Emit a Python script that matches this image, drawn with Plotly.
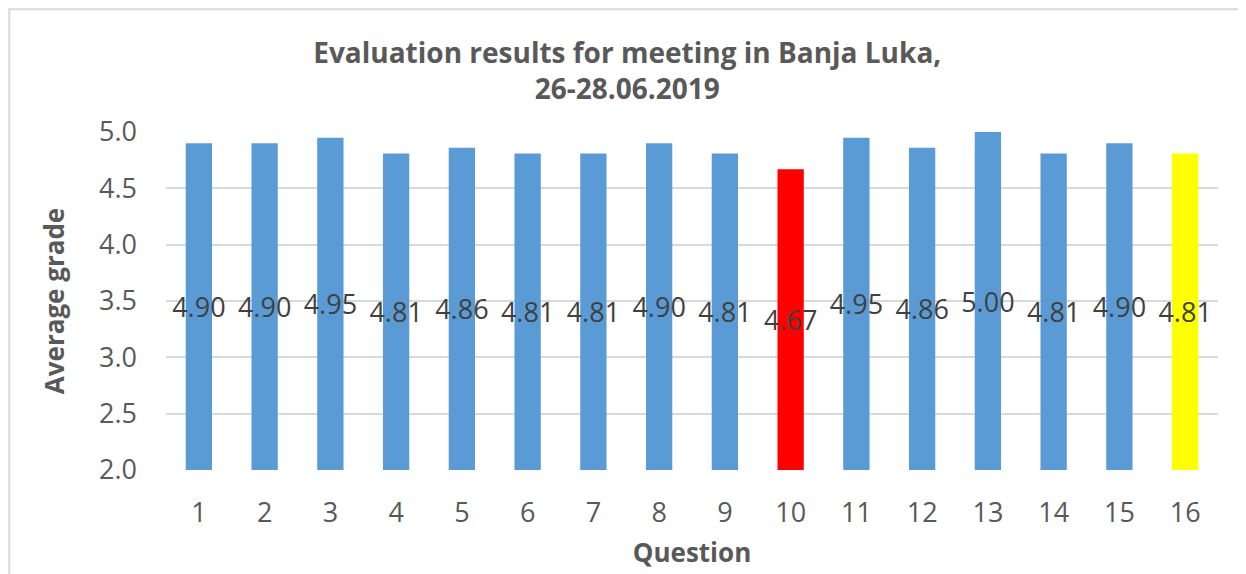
import plotly.graph_objects as go

questions = [str(i) for i in range(1, 17)]
grades = [4.90, 4.90, 4.95, 4.81, 4.86, 4.81, 4.81, 4.90, 4.81, 4.67,
          4.95, 4.86, 5.00, 4.81, 4.90, 4.81]
bar_colors = ["#5B9BD5"] * 9 + ["#FF0000"] + ["#5B9BD5"] * 5 + ["#FFFF00"]
labels = ["%.2f" % g for g in grades]
axis_floor = 2.0  # bars start at the bottom of the axis, like the Excel original

font = "Open Sans, Liberation Sans, sans-serif"

fig = go.Figure(go.Bar(
    x=questions, y=[g - axis_floor for g in grades], base=axis_floor,
    marker=dict(color=bar_colors, line=dict(width=0)),
    text=labels, textposition="inside", insidetextanchor="middle",
    textangle=0,
    insidetextfont=dict(family=font, size=27, color="#404040"),
    hovertemplate="%{x}: %{text}<extra></extra>",
))

fig.update_layout(
    width=1246, height=574,
    margin=dict(l=158, r=36, t=124, b=112),
    paper_bgcolor="white", plot_bgcolor="white",
    bargap=0.6,
    showlegend=False,
    uniformtext=dict(minsize=27, mode="show"),
    title=dict(
        text="Evaluation results for meeting in Banja Luka,<br>26-28.06.2019",
        x=0.497, xanchor="center", y=0.905, yanchor="middle",
        font=dict(family=font, size=28, color="#595959", weight="bold"),
    ),
    font=dict(family=font, color="#595959"),
)

fig.update_xaxes(
    type="category",
    tickfont=dict(size=27, color="#595959"),
    showgrid=False, showline=False, ticks="", ticklabelstandoff=24,
    title=dict(text="Question", font=dict(size=26, color="#595959", weight="bold"), standoff=14),
)
fig.update_yaxes(
    range=[2.0, 5.0], dtick=0.5, tickformat=".1f",
    showgrid=True, gridcolor="#d9d9d9", gridwidth=1.5,
    zeroline=False, showline=False, ticks="", ticklabelstandoff=28,
    tickfont=dict(size=27, color="#595959"),
    title=dict(text="Average grade", font=dict(size=26, color="#595959", weight="bold"), standoff=26),
)

# chart frame (light border that runs off the right and bottom edges)
fig.add_shape(type="rect", xref="paper", yref="paper",
              x0=-0.149, x1=1.1, y0=-0.5, y1=1.363,
              line=dict(color="#d9d9d9", width=2), layer="below")

fig.write_html("out.html")
